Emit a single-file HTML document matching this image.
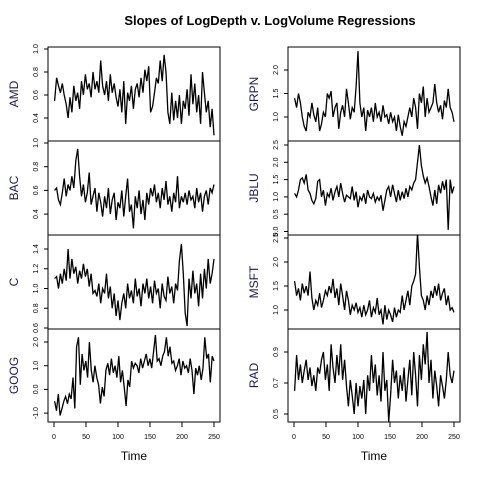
<!DOCTYPE html>
<html><head><meta charset="utf-8"><style>
html,body{margin:0;padding:0;background:#fff;}
svg{display:block;font-family:"Liberation Sans",Arial,sans-serif;}
</style></head><body>
<svg id="c" width="480" height="480" viewBox="0 0 480 480">
<text x="270" y="25" text-anchor="middle" font-size="13" font-weight="bold">Slopes of LogDepth v. LogVolume Regressions</text>
</svg>
<script>
const names = ["AMD","BAC","C","GOOG","GRPN","JBLU","MSFT","RAD"];
const AMD=[0.55,0.75,0.68,0.62,0.70,0.60,0.52,0.40,0.58,0.45,0.68,0.55,0.62,0.48,0.72,0.60,0.78,0.65,0.70,0.58,0.80,0.65,0.72,0.62,0.90,0.68,0.60,0.72,0.55,0.78,0.62,0.70,0.58,0.50,0.65,0.45,0.72,0.35,0.62,0.55,0.68,0.48,0.65,0.70,0.58,0.75,0.62,0.82,0.72,0.85,0.45,0.50,0.62,0.75,0.70,0.90,0.72,0.95,0.80,0.45,0.35,0.62,0.38,0.55,0.40,0.60,0.35,0.55,0.48,0.65,0.42,0.78,0.52,0.70,0.45,0.60,0.35,0.80,0.62,0.45,0.55,0.32,0.48,0.25];
const BAC=[0.60,0.62,0.52,0.48,0.58,0.70,0.55,0.65,0.60,0.72,0.62,0.85,0.95,0.72,0.55,0.65,0.50,0.58,0.75,0.48,0.55,0.62,0.42,0.58,0.50,0.38,0.55,0.45,0.62,0.40,0.52,0.58,0.35,0.50,0.45,0.60,0.38,0.55,0.70,0.42,0.48,0.28,0.55,0.45,0.60,0.40,0.52,0.35,0.58,0.48,0.62,0.55,0.65,0.50,0.58,0.45,0.62,0.52,0.68,0.48,0.55,0.42,0.58,0.50,0.72,0.45,0.55,0.50,0.58,0.48,0.60,0.52,0.55,0.45,0.62,0.50,0.58,0.42,0.55,0.60,0.48,0.62,0.58,0.65];
const C=[1.10,1.12,1.00,1.15,1.05,1.20,1.08,1.40,1.10,1.30,1.15,1.22,1.05,1.18,1.10,1.25,1.12,1.20,1.02,1.15,0.95,0.98,0.92,1.05,0.85,1.00,0.95,1.15,0.90,1.02,0.80,0.95,0.72,0.88,0.68,0.85,0.95,0.80,1.05,0.90,0.98,0.85,1.10,0.92,1.00,0.82,1.05,0.95,1.10,0.90,1.02,0.85,1.08,0.95,1.00,0.80,1.05,0.92,0.88,1.12,0.95,1.02,0.85,1.05,0.98,1.28,1.45,1.15,0.75,0.62,1.10,0.90,1.18,0.95,1.05,0.82,1.15,0.90,1.20,1.00,1.30,1.05,1.15,1.30];
const GOOG=[-0.5,-0.9,-0.2,-1.1,-0.8,-0.5,-0.3,-0.6,-0.2,-0.4,0.5,-0.8,1.8,2.2,0.2,1.5,0.8,1.2,0.5,2.0,0.8,0.3,1.0,0.5,0.2,-0.6,0.1,-0.3,0.8,1.1,0.6,1.3,0.7,1.0,0.5,1.4,0.3,0.8,0.1,-0.7,0.4,0.1,1.2,0.9,1.1,1.0,0.7,1.3,0.9,1.2,1.5,1.0,1.3,0.9,1.6,2.3,1.2,1.3,1.0,1.4,1.6,2.2,1.4,1.8,1.1,1.2,0.8,1.0,1.3,0.6,1.2,0.9,1.0,0.7,1.3,0.8,-0.2,0.9,0.6,1.0,0.4,0.9,2.2,1.3,1.5,0.3,1.4,1.2];
const GRPN=[1.4,1.2,1.5,1.3,1.0,0.8,0.7,1.1,1.0,1.3,1.05,0.9,1.2,0.7,0.85,1.1,1.0,1.5,1.4,1.55,1.0,1.2,1.3,0.75,1.1,1.25,1.0,1.6,1.3,0.95,1.2,1.1,1.65,2.4,1.3,1.0,1.2,0.7,1.15,1.0,1.2,0.9,1.3,1.0,1.1,0.9,1.25,1.0,1.05,0.85,1.1,0.9,1.0,0.7,1.05,0.8,0.6,0.9,0.8,1.0,1.2,1.0,1.4,1.2,0.75,1.5,1.3,1.65,1.0,1.4,1.1,1.2,1.3,1.7,1.3,1.1,1.25,0.95,1.35,1.2,1.6,1.2,1.1,0.9];
const JBLU=[1.1,1.0,1.2,1.5,1.55,1.4,1.65,1.2,1.1,0.9,0.8,0.95,1.45,1.5,1.0,1.2,0.75,1.1,1.0,1.25,0.9,1.15,1.3,1.0,1.4,1.1,0.85,1.05,1.0,0.95,1.3,0.9,1.15,0.7,1.0,0.9,1.1,0.8,1.2,1.0,0.95,1.1,0.85,1.0,0.9,1.05,0.6,0.9,1.2,1.3,1.0,1.35,1.1,0.85,1.2,0.9,1.15,0.95,1.25,1.0,1.3,1.2,1.4,1.5,2.0,2.5,1.9,1.6,1.4,1.55,1.3,1.0,0.75,1.2,0.8,1.35,1.1,1.45,1.2,1.5,0.05,1.5,1.1,1.3];
const MSFT=[1.6,1.3,1.45,1.2,1.55,1.35,1.5,1.3,1.8,1.25,1.0,1.2,1.1,1.35,1.05,1.2,1.4,1.3,1.5,1.35,1.65,1.25,1.45,1.1,1.55,1.3,1.0,1.4,1.2,0.9,1.1,1.0,1.15,0.95,1.05,0.85,1.1,0.9,1.0,1.2,0.85,1.05,0.95,1.25,0.9,1.0,0.7,1.1,0.8,1.0,0.9,0.75,1.05,0.85,1.0,0.95,1.3,1.0,1.2,1.4,1.1,1.5,1.6,1.75,2.6,1.9,1.3,1.2,1.0,1.3,1.1,1.4,1.25,1.5,1.3,1.55,1.2,1.35,1.45,1.1,1.3,1.0,1.05,0.95];
const RAD=[0.65,0.88,0.72,0.82,0.7,0.78,0.85,0.72,0.8,0.68,0.75,0.65,0.8,0.76,0.85,0.9,0.72,0.82,0.65,0.95,0.8,0.7,0.88,0.75,0.95,0.72,0.85,0.68,0.55,0.72,0.62,0.5,0.7,0.55,0.68,0.6,0.72,0.5,0.75,0.65,0.88,0.7,0.82,0.62,0.75,0.58,0.9,0.65,0.72,0.45,0.62,0.85,0.7,0.78,0.6,0.75,0.65,0.8,0.58,0.72,0.85,0.62,0.9,0.75,0.55,0.88,0.72,0.95,0.82,1.03,0.7,0.85,0.6,0.78,0.68,0.55,0.75,0.68,0.6,0.72,0.9,0.75,0.7,0.78];
const seriesList=[AMD,BAC,C,GOOG,GRPN,JBLU,MSFT,RAD];
const yTicksAMD=[0.4,0.6,0.8,1.0];
const yTicksBAC=[0.4,0.6,0.8,1.0];
const yTicksC=[0.6,0.8,1.0,1.2,1.4];
const yTicksGOOG=[-1,0,1,2];
const yTicksGRPN=[1.0,1.5,2.0];
const yTicksJBLU=[0.0,0.5,1.0,1.5,2.0,2.5];
const yTicksMSFT=[1.0,1.5,2.0,2.5];
const yTicksRAD=[0.5,0.7,0.9];
const tickList=[yTicksAMD,yTicksBAC,yTicksC,yTicksGOOG,yTicksGRPN,yTicksJBLU,yTicksMSFT,yTicksRAD];
const xTicks=[0,50,100,150,200,250];
const yScales=[[1.0,49,115],[1.0,143,118.5],[1.4,249,98.75],[2.0,342,23.7],[2.0,70,47],[2.5,145,34.6],[2.0,262,48],[0.9,352,155]];
const rows=[[47,141],[141,235],[235,329],[329,422]];
const NS="http://www.w3.org/2000/svg";
const svg=document.getElementById('c');
function mk(t,a){const e=document.createElementNS(NS,t);for(const k in a)e.setAttribute(k,a[k]);return e;}
const defs=mk('defs',{});svg.appendChild(defs);
for(let p=0;p<8;p++){
  const col=p<4?0:1, row=p%4;
  const x0=col?288:48, x1=col?460:220;
  const [top,bot]=rows[row];
  const xs=t=>x0+6+t*(160/250);
  const [v0,y0,k]=yScales[p];
  const ys=v=>y0-(v-v0)*k;
  const g=mk('g',{});
  
  
  svg.appendChild(g);
  const cp=mk('clipPath',{id:'cp'+p});cp.appendChild(mk('rect',{x:x0,y:top,width:x1-x0,height:bot-top}));defs.appendChild(cp);
  const d=seriesList[p];
  let pts=d.map((v,i)=>{const t=1+i*249/(d.length-1);return xs(t).toFixed(1)+','+ys(v).toFixed(1);}).join(' ');
  const line=mk('polyline',{points:pts,fill:'none',stroke:'#000','stroke-width':1.3,'clip-path':'url(#cp'+p+')'});
  
  
  g.appendChild(line);
  const box=mk('rect',{x:x0,y:top,width:x1-x0,height:bot-top,fill:'none',stroke:'#000','stroke-width':1});
  
  
  g.appendChild(box);
  for(const tv of tickList[p]){
    const y=ys(tv);
    const tk=mk('line',{x1:x0-4,x2:x0,y1:y,y2:y,stroke:'#000'});
    
    
    g.appendChild(tk);
    const lb=mk('text',{x:x0-10,y:y,'font-size':7,'text-anchor':'middle',transform:`rotate(-90 ${x0-10} ${y})`});
    
    
    lb.textContent=tv.toFixed(1);g.appendChild(lb);
  }
  const yl=mk('text',{x:x0-30,y:(top+bot)/2,'font-size':12,fill:'#1a1a4a','text-anchor':'middle',transform:`rotate(-90 ${x0-30} ${(top+bot)/2})`});
  
  
  yl.textContent=names[p];g.appendChild(yl);
  if(row===3){
    for(const xv of xTicks){
      const x=xs(xv);
      const tk=mk('line',{x1:x,x2:x,y1:bot,y2:bot+5,stroke:'#000'});
      
      
      g.appendChild(tk);
      const lb=mk('text',{x:x,y:bot+17,'font-size':7,'text-anchor':'middle'});
      
      
      lb.textContent=xv;g.appendChild(lb);
    }
    const xl=mk('text',{x:(x0+x1)/2,y:460,'font-size':12,'text-anchor':'middle'});
    
    
    xl.textContent='Time';g.appendChild(xl);
  }
}
</script>
</body></html>
